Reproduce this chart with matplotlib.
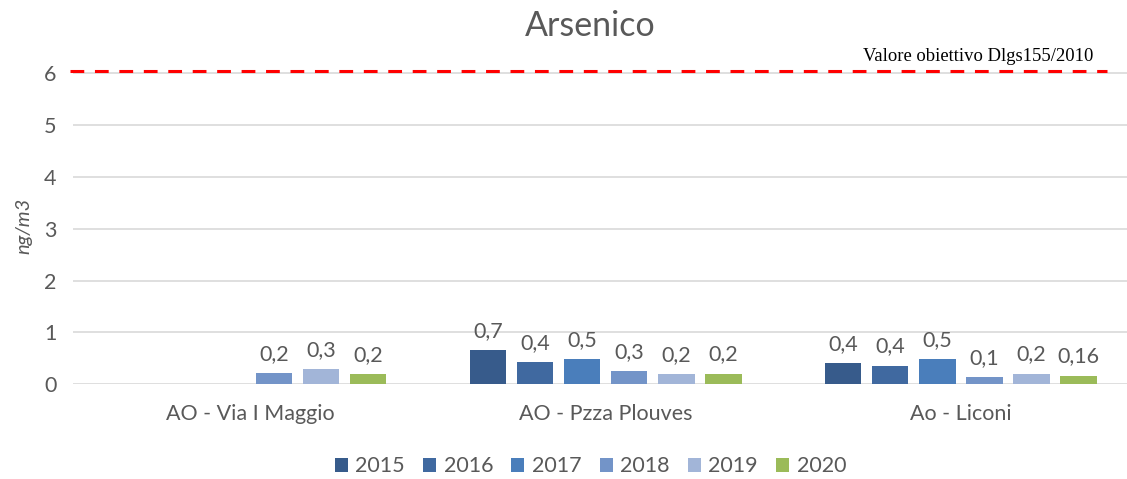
import numpy as np
import matplotlib
matplotlib.use("Agg")
import matplotlib.pyplot as plt

plt.rcParams['font.family'] = ['Lato', 'DejaVu Sans']

stations = ['AO - Via I Maggio', 'AO - Pzza Plouves', 'Ao - Liconi']
years = ['2015', '2016', '2017', '2018', '2019', '2020']
colors = ['#375B8B', '#4069A0', '#4A7EBB', '#7394C8', '#A2B5D8', '#9BBB59']

# heights, labels as printed on the chart
v2015 = [np.nan, 0.65, 0.40]
v2016 = [np.nan, 0.42, 0.36]
v2017 = [np.nan, 0.48, 0.48]
v2018 = [0.21, 0.25, 0.13]
v2019 = [0.29, 0.19, 0.20]
v2020 = [0.19, 0.20, 0.16]
lab2015 = ['', '0,7', '0,4']
lab2016 = ['', '0,4', '0,4']
lab2017 = ['', '0,5', '0,5']
lab2018 = ['0,2', '0,3', '0,1']
lab2019 = ['0,3', '0,2', '0,2']
lab2020 = ['0,2', '0,2', '0,16']
target = 6.05

series = [v2015, v2016, v2017, v2018, v2019, v2020]
labels = [lab2015, lab2016, lab2017, lab2018, lab2019, lab2020]

grey = '#595959'
fig = plt.figure(figsize=(11.27, 4.79), dpi=100)
ax = fig.add_axes([0.0648, 0.198, 0.945, 0.66])

x = np.arange(len(stations)) + 0.5
pitch = 0.1324
w = 0.104
for i, (vals, labs) in enumerate(zip(series, labels)):
    pos = x + (i - 2.5) * pitch
    ax.bar(pos, vals, w, color=colors[i], label=years[i], zorder=3)
    for p, v, t in zip(pos, vals, labs):
        if t:
            ax.text(p, v + 0.18, t, ha='center', va='bottom', fontsize=15.5, color=grey)

ax.axhline(target, xmin=-0.003, xmax=0.971, color='#FF0000', lw=2.2,
           ls=(0, (4.5, 3.5)), zorder=4, clip_on=False)
ax.text(2.549, target + 0.1, 'Valore obiettivo Dlgs155/2010', ha='center', va='bottom',
        fontsize=13.4, family='Liberation Serif', color='black')

ax.set_xlim(0, 3)
ax.set_ylim(0, 6.1)
ax.set_yticks(range(0, 7))
ax.set_xticks(x)
ax.set_xticklabels(stations)
ax.tick_params(axis='both', length=0, labelsize=15.5, labelcolor=grey, pad=12)
ax.tick_params(axis='x', pad=14)
ax.grid(axis='y', color='#D9D9D9', lw=1.2, zorder=0)
for s in ax.spines.values():
    s.set_visible(False)
ax.set_ylabel('ng/m3', fontsize=14.5, style='italic', color=grey, labelpad=8)

fig.text(0.524, 0.945, 'Arsenico', ha='center', va='center', fontsize=24.5, color=grey)

fig.legend(loc='lower center', bbox_to_anchor=(0.524, -0.035), ncol=6, frameon=False,
           fontsize=15.5, labelcolor=grey, handlelength=0.6, handleheight=0.6,
           handletextpad=0.35, columnspacing=0.85)

fig.savefig('out.png', dpi=100)
